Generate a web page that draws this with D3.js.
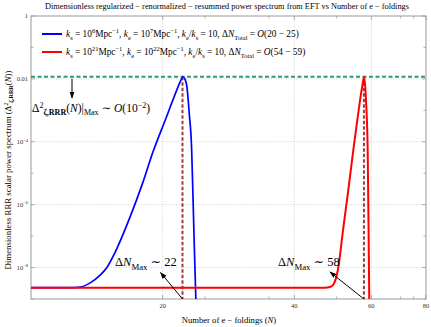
<!DOCTYPE html>
<html>
<head>
<meta charset="utf-8">
<script src="https://cdn.jsdelivr.net/npm/d3@7"></script>
<style>
  body { margin: 0; background: #fff; }
  svg { display: block; }
  text { font-family: "Liberation Serif", "DejaVu Serif", serif; }
</style>
</head>
<body>
<svg id="chart" width="431" height="327"></svg>
<script>
// blue: k_s = 10^6 Mpc^-1 case
const blueN = [10, 12.27, 12.94, 13.63, 14.37, 14.91, 15.56, 16.84, 18.03, 19.0, 20.35, 21.45, 22.02, 22.25, 22.49, 22.73, 23.0, 23.29, 23.45, 23.64, 23.83];
const blueV = [2.3e-9, 2.3e-9, 2.4e-9, 3.2e-9, 5.6e-9, 1.0e-8, 3.0e-8, 4.0e-7, 5.2e-6, 4.7e-5, 5.6e-4, 3.8e-3, 9.1e-3, 1.17e-2, 9.8e-3, 5.5e-3, 8.1e-4, 6.3e-5, 2.3e-6, 3.5e-8, 8e-10];
// red: k_s = 10^21 Mpc^-1 case
const redN = [10, 46.99, 48.26, 49.11, 49.81, 50.42, 51.67, 53.14, 54.56, 55.92, 57.1, 57.8, 58.33, 58.85, 59.1, 59.35];
const redV = [2.3e-9, 2.3e-9, 2.4e-9, 2.9e-9, 4.6e-9, 1.0e-8, 1.5e-7, 2.9e-6, 5.4e-5, 7.0e-4, 5.1e-3, 1.17e-2, 2.1e-3, 5.4e-5, 3.2e-7, 8e-10];

const peakLevel = 0.0117;
const peakN = [22.2, 57.7];
const xMajor = [20, 40, 60, 80];
const xMinor = [25, 35, 50, 70, 75];
const yMajor = [1, 1e-2, 1e-4, 1e-6, 1e-8];
const yMinor = [1e-1, 1e-3, 1e-5, 1e-7, 1e-9];
const xGrid = [20, 40, 60];
const yGrid = [1e-2, 1e-4, 1e-6, 1e-8];

const svg = d3.select("#chart");
const L = 31, R = 426, T = 16, B = 299;

const x = d3.scaleLog().domain([10, 80]).range([L, R]);
const y = d3.scaleLog().domain([1e-9, 1]).range([B, T]);

// rich text helper: parts = [{t, i, b, s:'sub'|'sup'}]
function rich(sel, parts, size) {
  let shift = 0;
  parts.forEach((p) => {
    const ts = sel.append("tspan").text(p.t);
    let target = 0;
    if (p.s === "sub") target = size * 0.28;
    if (p.s === "sup") target = -size * 0.38;
    if (target !== shift) { ts.attr("dy", target - shift); shift = target; }
    ts.attr("font-size", p.s ? size * 0.7 : size);
    if (p.i) ts.attr("font-style", "italic");
    if (p.b) ts.attr("font-weight", "bold");
  });
  return sel;
}

svg.append("defs").append("clipPath").attr("id", "clip")
  .append("rect").attr("x", L).attr("y", T).attr("width", R - L).attr("height", B - T);

svg.append("defs").append("marker")
  .attr("id", "arr").attr("viewBox", "0 0 10 10").attr("refX", 9).attr("refY", 5)
  .attr("markerWidth", 7).attr("markerHeight", 7).attr("orient", "auto")
  .append("path").attr("d", "M0,1.5 L10,5 L0,8.5 Z").attr("fill", "#000");

// grid
const grid = svg.append("g").attr("stroke", "#c8c8c8").attr("stroke-width", 0.8).attr("stroke-dasharray", "1,1.5");
grid.selectAll(".gx").data(xGrid).enter().append("line")
  .attr("x1", (d) => x(d)).attr("x2", (d) => x(d)).attr("y1", T).attr("y2", B);
grid.selectAll(".gy").data(yGrid).enter().append("line")
  .attr("y1", (d) => y(d)).attr("y2", (d) => y(d)).attr("x1", L).attr("x2", R);

// frame + ticks
svg.append("rect").attr("x", L).attr("y", T).attr("width", R - L).attr("height", B - T)
  .attr("fill", "none").attr("stroke", "#9a9a9a").attr("stroke-width", 1);

const ticks = svg.append("g").attr("stroke", "#9a9a9a").attr("stroke-width", 0.8);
function xt(list, len) {
  list.forEach((d) => {
    ticks.append("line").attr("x1", x(d)).attr("x2", x(d)).attr("y1", B).attr("y2", B - len);
    ticks.append("line").attr("x1", x(d)).attr("x2", x(d)).attr("y1", T).attr("y2", T + len);
  });
}
function yt(list, len) {
  list.forEach((d) => {
    ticks.append("line").attr("y1", y(d)).attr("y2", y(d)).attr("x1", L).attr("x2", L + len);
    ticks.append("line").attr("y1", y(d)).attr("y2", y(d)).attr("x1", R).attr("x2", R - len);
  });
}
xt(xMajor, 4); xt(xMinor, 2.5); yt(yMajor, 4); yt(yMinor, 2.5);

// tick labels
svg.append("g").selectAll("text").data(xMajor).enter().append("text")
  .attr("x", (d) => x(d)).attr("y", 308).attr("text-anchor", "middle")
  .attr("font-size", 6.5).attr("fill", "#333").text((d) => d);

const yLab = svg.append("g");
yMajor.forEach((d) => {
  const e = Math.round(Math.log10(d));
  const t = yLab.append("text").attr("x", L - 3).attr("y", y(d) + 2.2)
    .attr("text-anchor", "end").attr("fill", "#333");
  if (e === 0) rich(t, [{ t: "1" }], 6.5);
  else if (e === -2) rich(t, [{ t: "0.01" }], 6.5);
  else rich(t, [{ t: "10" }, { t: "\u2212" + (-e), s: "sup" }], 6.5);
});

// reference lines
svg.append("line").attr("x1", L).attr("x2", R).attr("y1", y(peakLevel)).attr("y2", y(peakLevel))
  .attr("stroke", "#2e9b6f").attr("stroke-width", 2).attr("stroke-dasharray", "4,2.5");
svg.append("g").selectAll("line").data(peakN).enter().append("line")
  .attr("x1", (d) => x(d)).attr("x2", (d) => x(d)).attr("y1", y(peakLevel)).attr("y2", B)
  .attr("stroke", "#a33a3a").attr("stroke-width", 2).attr("stroke-dasharray", "3.5,2");

// curves
const line = d3.line().x((d) => x(d[0])).y((d) => y(d[1])).curve(d3.curveMonotoneX);
const plot = svg.append("g").attr("clip-path", "url(#clip)");
plot.append("path").datum(d3.zip(blueN, blueV)).attr("d", line)
  .attr("fill", "none").attr("stroke", "#0000ff").attr("stroke-width", 1.7);
plot.append("path").datum(d3.zip(redN, redV)).attr("d", line)
  .attr("fill", "none").attr("stroke", "#ff0000").attr("stroke-width", 2);

// legend
const legend = [
  { c: "#0000ff", y: 34, a: "6", b: "7", r: "20 \u2212 25" },
  { c: "#ff0000", y: 52, a: "21", b: "22", r: "54 \u2212 59" },
];
legend.forEach((l) => {
  svg.append("line").attr("x1", 42).attr("x2", 62).attr("y1", l.y).attr("y2", l.y)
    .attr("stroke", l.c).attr("stroke-width", 2);
  const t = svg.append("text").attr("x", 66).attr("y", l.y + 3);
  rich(t, [
    { t: "k", i: 1 }, { t: "s", s: "sub" }, { t: " = 10" }, { t: l.a, s: "sup" }, { t: "Mpc" }, { t: "\u22121", s: "sup" },
    { t: ", " }, { t: "k", i: 1 }, { t: "e", s: "sub" }, { t: " = 10" }, { t: l.b, s: "sup" }, { t: "Mpc" }, { t: "\u22121", s: "sup" },
    { t: ", " }, { t: "k", i: 1 }, { t: "e", s: "sub" }, { t: "/" }, { t: "k", i: 1 }, { t: "s", s: "sub" },
    { t: " = 10, \u0394" }, { t: "N", i: 1 }, { t: "Total", s: "sub" }, { t: " = " }, { t: "O", i: 1 }, { t: "(" + l.r + ")" },
  ], 9.3);
});

// title and axis labels
svg.append("text").attr("x", 227).attr("y", 8.5).attr("text-anchor", "middle").attr("font-size", 8.3)
  .text("Dimensionless regularized \u2212 renormalized \u2212 resummed power spectrum from EFT vs Number of e \u2212 foldings");

rich(svg.append("text").attr("x", 229).attr("y", 323).attr("text-anchor", "middle"),
  [{ t: "Number of e \u2212 foldings  (" }, { t: "N", i: 1 }, { t: ")" }], 8.6);

rich(svg.append("text").attr("transform", "translate(11,170) rotate(-90)").attr("text-anchor", "middle"),
  [{ t: "Dimensionless RRR scalar power spectrum   (\u0394" }, { t: "2", s: "sup" }, { t: "\u03b6,RRR", s: "sub", b: 1 },
   { t: "(" }, { t: "N", i: 1 }, { t: "))" }], 8.8);

// annotations
rich(svg.append("text").attr("x", 32).attr("y", 112),
  [{ t: "\u0394" }, { t: "2", s: "sup" }, { t: "\u03b6,RRR", s: "sub", b: 1 }, { t: "(" }, { t: "N", i: 1 }, { t: ")|" },
   { t: "Max", s: "sub" }, { t: " \u223c " }, { t: "O", i: 1 }, { t: "(10" }, { t: "\u22122", s: "sup" }, { t: ")" }], 11.5);

rich(svg.append("text").attr("x", 115).attr("y", 266),
  [{ t: "\u0394" }, { t: "N", i: 1 }, { t: "Max", s: "sub" }, { t: " \u223c 22" }], 12.5);
rich(svg.append("text").attr("x", 278).attr("y", 266),
  [{ t: "\u0394" }, { t: "N", i: 1 }, { t: "Max", s: "sub" }, { t: " \u223c 58" }], 12.5);

const arrows = [
  [72, y(peakLevel) + 2, 72, 98],
  [x(peakN[0]), B, 160.5, 272.5],
  [x(peakN[1]), B, 330, 272],
];
svg.append("g").selectAll("line").data(arrows).enter().append("line")
  .attr("x1", (d) => d[0]).attr("y1", (d) => d[1]).attr("x2", (d) => d[2]).attr("y2", (d) => d[3])
  .attr("stroke", "#000").attr("stroke-width", 1).attr("marker-end", "url(#arr)");
</script>
</body>
</html>
